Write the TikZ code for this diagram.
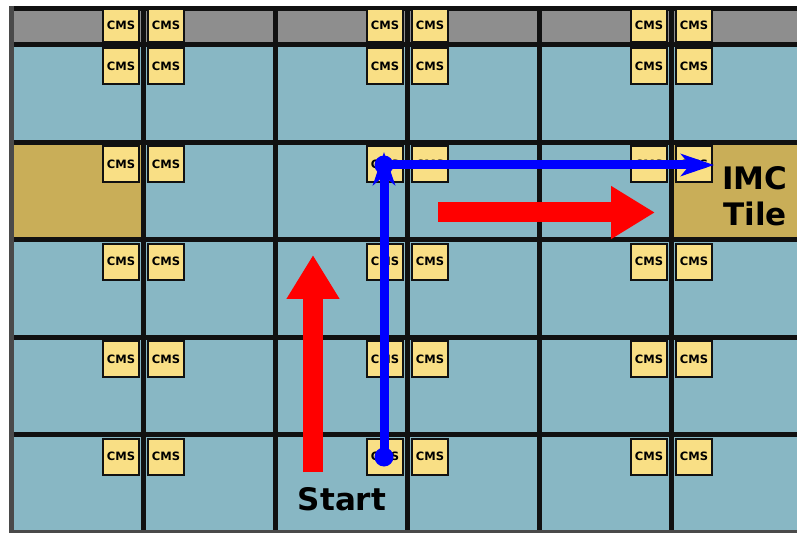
\documentclass[tikz,border=0pt]{standalone}
\usepackage{fontspec}
\setsansfont{DejaVu Sans}
\usepackage{xcolor}
\usepackage{tikz}
\usetikzlibrary{arrows.meta}
\definecolor{cellblue}{HTML}{88B7C4}
\definecolor{imcgold}{HTML}{C9AE58}
\definecolor{stripgray}{HTML}{8E8E8E}
\definecolor{cmsyellow}{HTML}{F9DF85}
\definecolor{gridblack}{HTML}{111111}
\definecolor{edgegray}{HTML}{4A4A4A}

\tikzset{
  cmsbox/.style={draw=gridblack, line width=2pt, fill=cmsyellow, minimum width=36pt, minimum height=36pt,
    inner sep=0pt, font=\sffamily\bfseries\fontsize{11.5}{12}\selectfont},
  gridline/.style={draw=gridblack, line width=5pt},
  redarrow/.style={draw=red, line width=20pt, -{Triangle[length=44pt,width=50pt]}},
  bluearrow/.style={draw=blue, line width=9pt, -{Stealth[length=33pt,width=22pt,inset=9pt]}},
  bluedot/.style={circle, fill=blue, minimum size=19pt, inner sep=0pt},
  biglabel/.style={font=\sffamily\bfseries\fontsize{31}{36}\selectfont, inner sep=0pt}
}

\begin{document}
\begin{tikzpicture}[x=1pt, y=-1pt]
\useasboundingbox[fill=white] (0,0) rectangle (800,534);

% cells
\fill[cellblue] (11,45) rectangle (797,532);
\fill[stripgray] (11,8) rectangle (797,45);
\fill[imcgold] (11,142.4) rectangle (143,239.8);
\fill[imcgold] (671,142.4) rectangle (797,239.8);

% grid
\foreach \gx in {143,275,407,539,671}
  \draw[gridline] (\gx,8) -- (\gx,532);
\foreach \gy in {45,142.4,239.8,337.2,434.6}
  \draw[gridline] (11,\gy) -- (797,\gy);
\draw[gridline] (9,8.5) -- (797,8.5);
\draw[edgegray, line width=5pt] (11.5,6) -- (11.5,533);
\draw[edgegray, line width=3pt] (9,531.5) -- (797,531.5);

% CMS pairs on every column line
\foreach \cx [count=\k] in {143,407,671} {
  \node[cmsbox, minimum height=33pt] (cms-0-\k-l) at (\cx-22,25.5) {CMS};
  \node[cmsbox, minimum height=33pt] (cms-0-\k-r) at (\cx+23,25.5) {CMS};
  \foreach \cy [count=\r] in {66.5,164.5,261.8,359.2,456.6} {
    \node[cmsbox] (cms-\r-\k-l) at (\cx-22,\cy) {CMS};
    \node[cmsbox] (cms-\r-\k-r) at (\cx+23,\cy) {CMS};
  }
}

% red arrows
\coordinate (upfrom) at (313,472);
\coordinate (upto) at (313,255);
\coordinate (rightfrom) at (438,212.5);
\coordinate (rightto) at (655,212.5);
\draw[redarrow] (upfrom) -- (upto);
\draw[redarrow] (rightfrom) -- (rightto);

% blue route
\node[bluedot] (src) at (384,457) {};
\node[bluedot] (turn) at (384,165) {};
\coordinate (dst) at (714,165);
\draw[bluearrow, shorten >=-13pt] (src.center) -- (turn.center);
\draw[bluearrow] (turn.center) -- (dst);

\node[biglabel, anchor=base] (start) at (342,510) {Start};
\node[biglabel, align=center] (imctile) at (755,196.5) {IMC\\Tile};
\end{tikzpicture}
\end{document}
